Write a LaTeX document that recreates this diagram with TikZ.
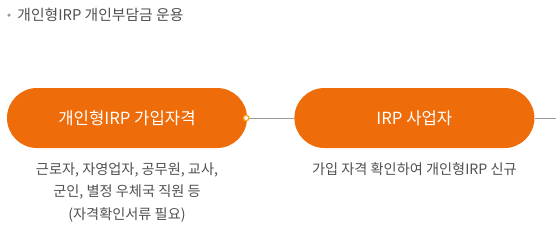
\documentclass[tikz,border=0pt]{standalone}
\usepackage{fontspec}
\setmainfont{Noto Sans CJK KR}
\usepackage{xcolor}
\usetikzlibrary{positioning}
\definecolor{irpOrange}{HTML}{EE6C0A}
\definecolor{irpDot}{HTML}{F9A51B}
\definecolor{irpText}{HTML}{505050}
\definecolor{irpLine}{HTML}{9A9A9A}

\begin{document}
\begin{tikzpicture}[
  x=1pt, y=1pt,
  pill/.style={draw=none, fill=irpOrange, rounded corners=30pt, minimum width=240pt,
               minimum height=60pt, text=white, font=\fontsize{16.7}{19}\selectfont},
  note/.style={align=center, text=irpText, font=\fontsize{14.2}{22.5}\selectfont},
  link/.style={draw=irpLine, line width=0.8pt},
  dot/.style={circle, draw=irpDot, fill=white, line width=1.3pt, inner sep=0pt, minimum size=5.5pt}
]
\useasboundingbox (0,0) rectangle (556,-242);

\node[circle, fill=irpLine, inner sep=0pt, minimum size=3.5pt] (bullet) at (9,-15) {};
\node[anchor=west, text=irpText, font=\fontsize{14.8}{17}\selectfont, right=3pt of bullet] (title)
  {개인형IRP 개인부담금 운용};

\node[pill] (join) at (127,-118) {개인형IRP 가입자격};
\node[pill, right=47pt of join] (biz) {IRP 사업자};

\node[note, below=11pt of join] (joindesc) {근로자, 자영업자, 공무원, 교사,\\ 군인, 별정 우체국 직원 등\\ (자격확인서류 필요)};
\node[note, below=11pt of biz] (bizdesc) {가입 자격 확인하여 개인형IRP 신규};

\coordinate (rightend) at (556,-118);
\draw[link] (join.east) -- (biz.west);
\draw[link] (biz.east) -- (rightend);
\node[dot] (joindot) at ([xshift=-1pt]join.east) {};
\end{tikzpicture}
\end{document}
